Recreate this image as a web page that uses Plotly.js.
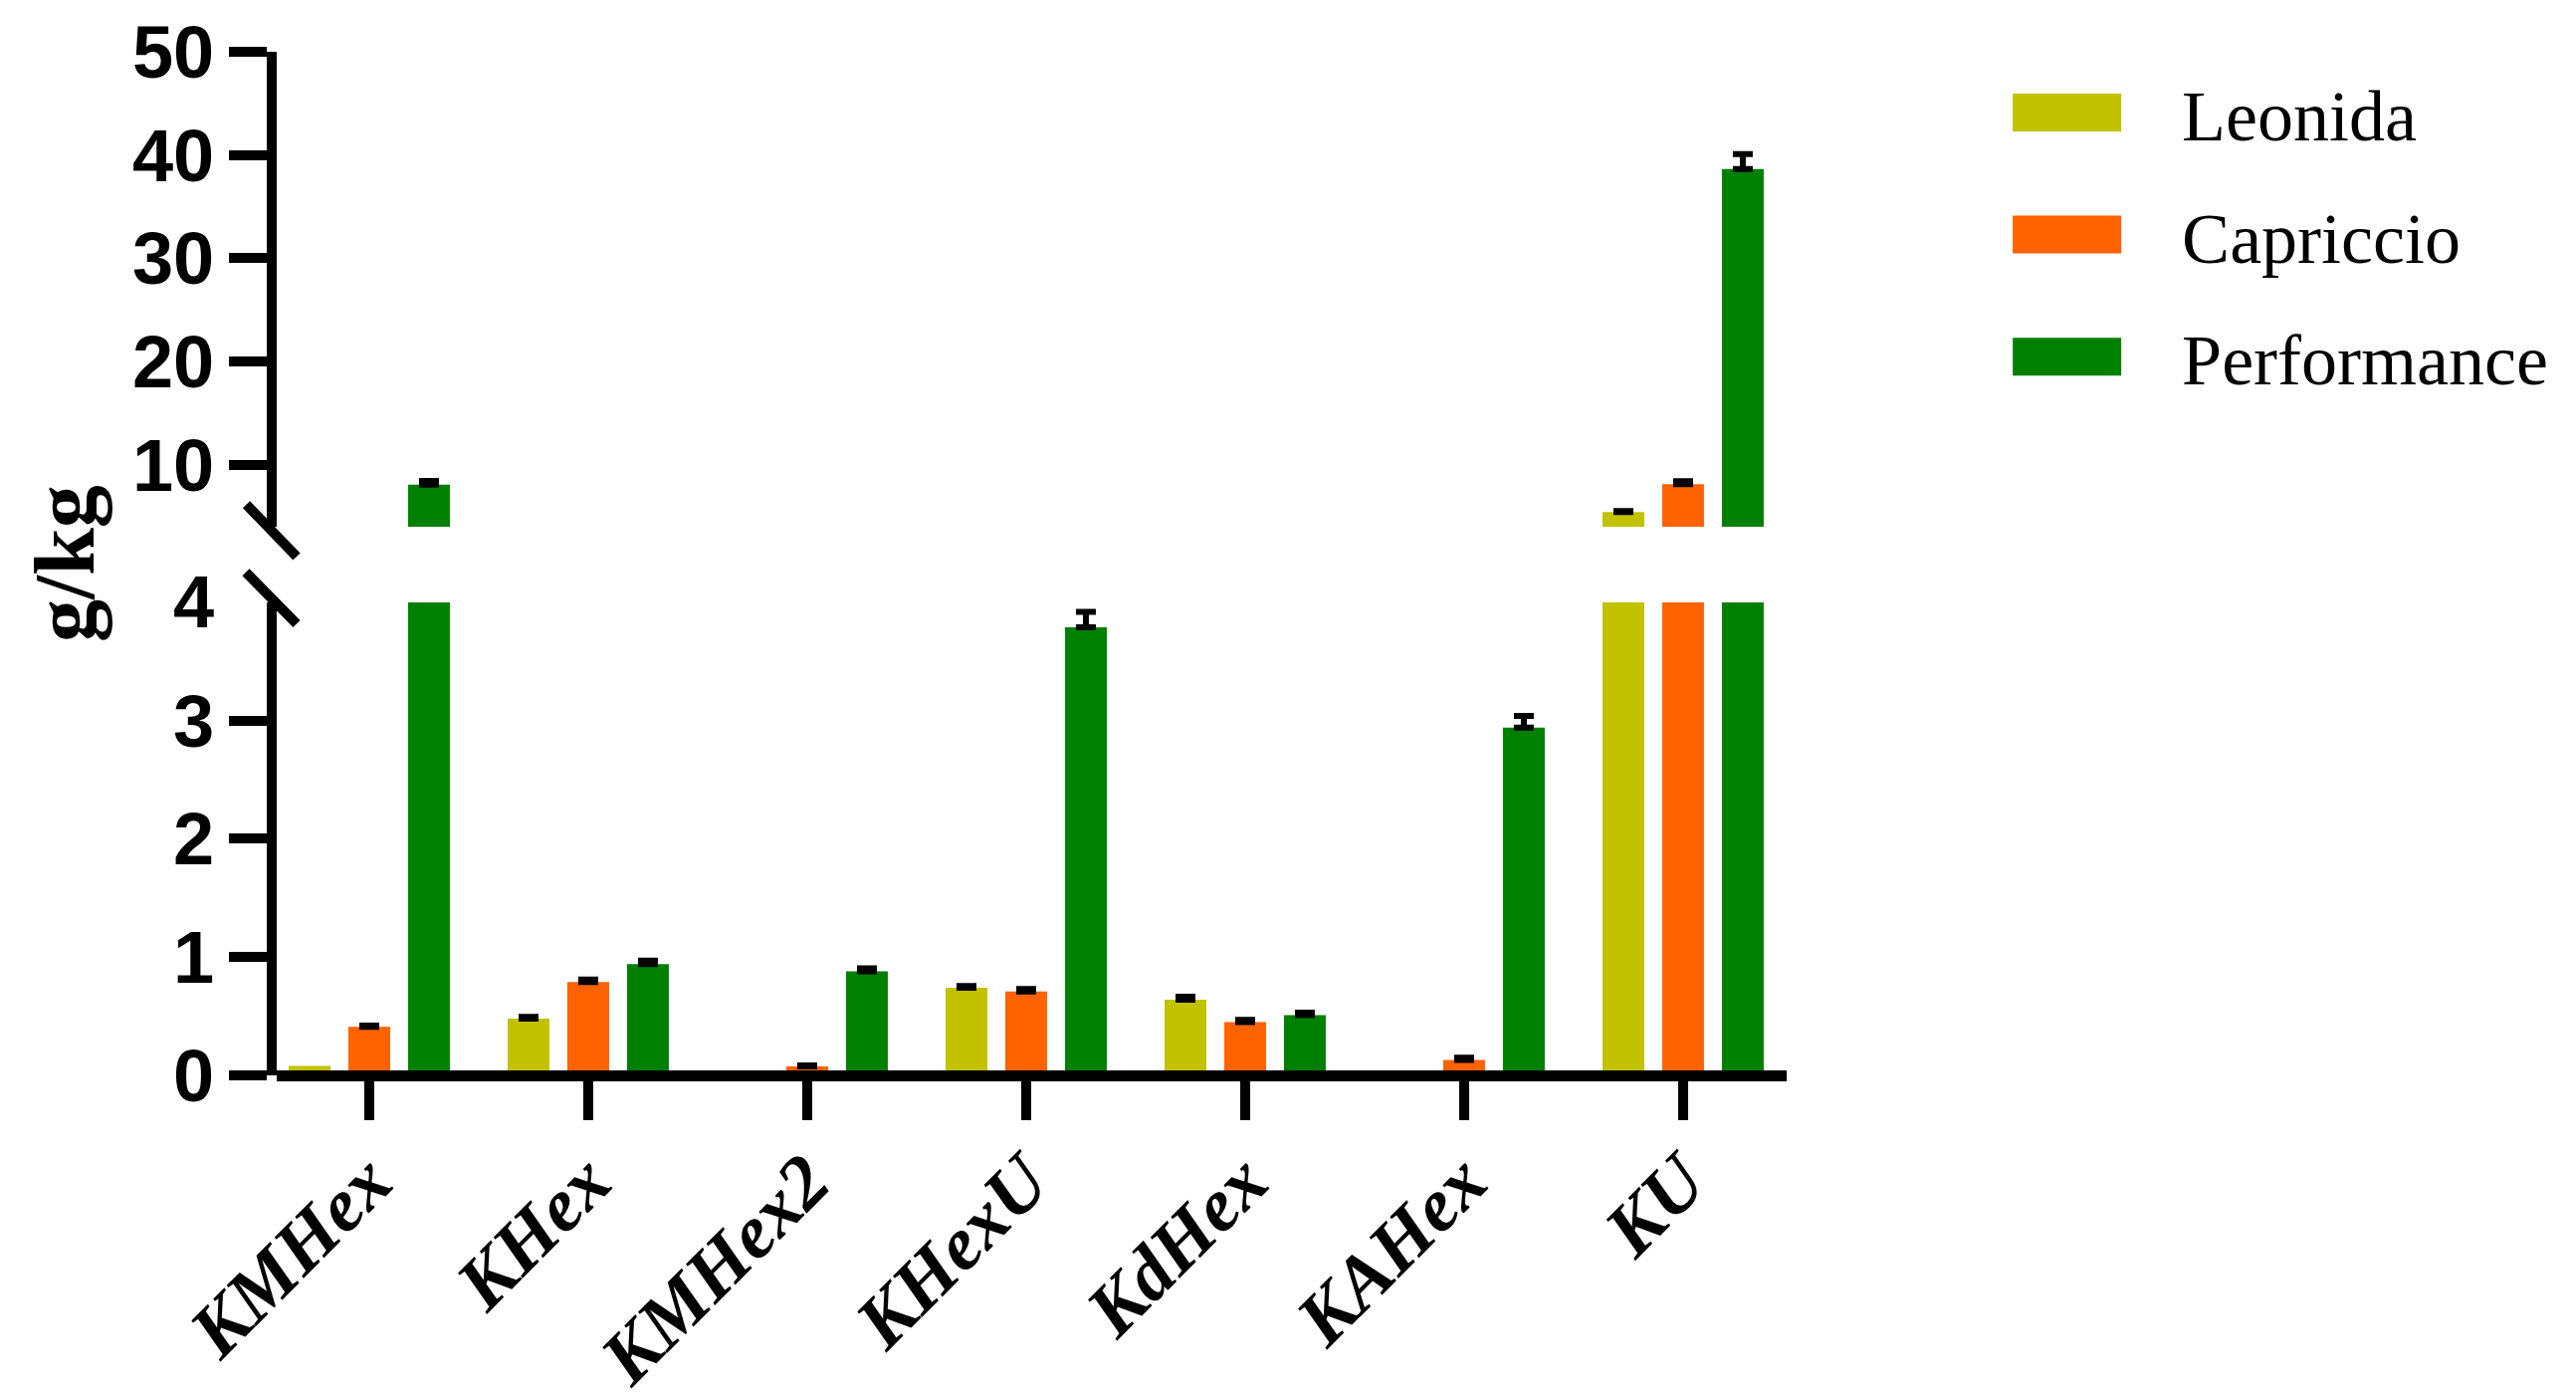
<!DOCTYPE html>
<html>
<head>
<meta charset="utf-8">
<script src="https://cdn.plot.ly/plotly-3.0.1.min.js"></script>
<style>
  html, body { margin: 0; padding: 0; background: #fff; }
  #chart { width: 2588px; height: 1400px; }
</style>
</head>
<body>
<div id="chart"></div>
<script>
// categories and series (g/kg)
const categories = ["KMHex", "KHex", "KMHex2", "KHexU", "KdHex", "KAHex", "KU"];
const seriesNames = ["Leonida", "Capriccio", "Performance"];
const seriesColors = ["#c2c200", "#ff6200", "#008000"];

const leonida = [0.08, 0.48, 0, 0.74, 0.64, 0, 5.43];
const capriccio = [0.41, 0.79, 0.075, 0.71, 0.45, 0.13, 8.13];
const performance = [8.07, 0.94, 0.88, 3.79, 0.51, 2.94, 38.64];

// upper error (SD); null = no visible bar
const leonidaErr = [null, 0.015, null, 0.015, 0.025, null, 0.1];
const capriccioErr = [0.01, 0.02, 0.01, 0.02, 0.02, 0.02, 0.29];
const performanceErr = [0.36, 0.03, 0.025, 0.13, 0.02, 0.1, 1.45];

const lowerTicks = [0, 1, 2, 3];
const upperTicks = [10, 20, 30, 40, 50];
const lowerRange = [0, 4];
const upperRange = [4, 50];

const lowerDomain = [0, 0.4621];
const upperDomain = [0.536, 1];

const values = [leonida, capriccio, performance];
const errors = [leonidaErr, capriccioErr, performanceErr];

function makeTrace(i, yaxis) {
    const upper = yaxis === "y2";
    const vals = values[i];
    // only draw an error bar in the segment where the bar ends
    const err = errors[i].map((e, k) => {
        if (e === null) return null;
        if (upper && vals[k] < upperRange[0]) return null;
        if (!upper && vals[k] >= lowerRange[1]) return null;
        return e;
    });
    return {
        type: "bar",
        name: seriesNames[i],
        x: categories,
        y: vals,
        yaxis: yaxis,
        legendgroup: seriesNames[i],
        showlegend: !upper,
        marker: { color: seriesColors[i], line: { width: 0 } },
        error_y: {
            type: "data",
            symmetric: false,
            array: err.map(e => e === null ? NaN : e),
            arrayminus: err.map(e => e === null ? NaN : 0),
            color: "#000",
            thickness: 6,
            width: 10
        },
        hoverinfo: "skip"
    };
}

const traces = [];
for (let i = 0; i < 3; i++) traces.push(makeTrace(i, "y"));
for (let i = 0; i < 3; i++) traces.push(makeTrace(i, "y2"));

const tickFont = { family: "Liberation Sans", size: 74, weight: "bold", color: "#000" };

const yStyle = {
    anchor: "x",
    showline: true, linewidth: 10, linecolor: "#000",
    ticks: "outside", ticklen: 38, tickwidth: 10, tickcolor: "#000",
    tickfont: tickFont,
    showgrid: false, zeroline: false, fixedrange: true
};

// break marks on the y axis, anchored at the segment ends
const slash = { type: "line", xref: "paper", yref: "paper", xsizemode: "pixel", xanchor: 0,
    ysizemode: "pixel", line: { color: "#000", width: 10 } };

const layout = {
    width: 2588, height: 1400,
    margin: { l: 278, r: 793, t: 52, b: 320, autoexpand: false },
    paper_bgcolor: "#fff", plot_bgcolor: "#fff",
    barmode: "group", bargap: 0.182, bargroupgap: 0.3,
    showlegend: true,
    legend: {
        x: 1.1095, y: 0.9925, xanchor: "left", yanchor: "top",
        traceorder: "grouped", tracegroupgap: 26, itemwidth: 221,
        font: { family: "Liberation Serif", size: 72, color: "#000" },
        bgcolor: "rgba(0,0,0,0)"
    },
    xaxis: {
        type: "category",
        range: [-0.4227, 6.473],
        anchor: "free", position: 0,
        showline: true, linewidth: 11, linecolor: "#000",
        ticks: "outside", ticklen: 39, tickwidth: 10, tickcolor: "#000",
        tickangle: -45, ticklabelstandoff: -14,
        tickfont: { family: "Liberation Serif", size: 76, weight: "bold", style: "italic", color: "#000" },
        showgrid: false, zeroline: false, fixedrange: true
    },
    yaxis: Object.assign({}, yStyle, { domain: lowerDomain, range: lowerRange, tickvals: lowerTicks }),
    yaxis2: Object.assign({}, yStyle, { domain: upperDomain, range: upperRange, tickvals: upperTicks }),
    shapes: [
        Object.assign({}, slash, { yanchor: upperDomain[0], x0: -30.5, x1: 20, y0: 22.3, y1: -30 }),
        Object.assign({}, slash, { yanchor: lowerDomain[1], x0: -31, x1: 20, y0: 30.3, y1: -21.5 })
    ],
    annotations: [
        { xref: "paper", x: 0, yref: "y", y: lowerRange[1], xanchor: "right", yanchor: "middle",
          xshift: -61, text: String(lowerRange[1]), showarrow: false, font: tickFont },
        { xref: "paper", x: -0.1404, yref: "paper", y: 0.5, xanchor: "center", yanchor: "middle",
          text: "g/kg", textangle: -90, showarrow: false,
          font: { family: "Liberation Serif", size: 86, weight: "bold", color: "#000" } }
    ]
};

Plotly.newPlot("chart", traces, layout, { displayModeBar: false, staticPlot: true }).then(function (gd) {
    // wide legend swatches like the original
    gd.querySelectorAll(".legend .legendpoints path").forEach(function (p) {
        p.setAttribute("d", "M-54.5,19H54.5V-19H-54.5Z");
    });
});
</script>
</body>
</html>
